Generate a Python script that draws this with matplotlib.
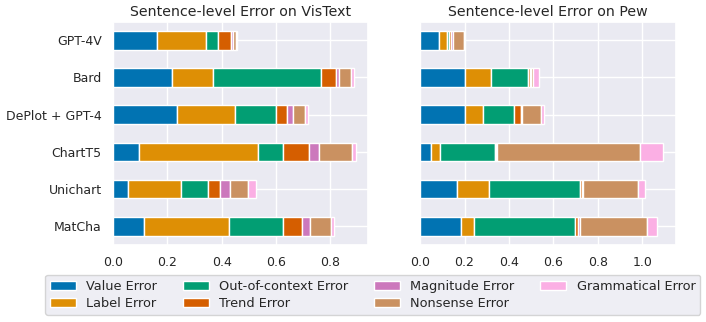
import numpy as np
import matplotlib.pyplot as plt
import seaborn as sns

sns.set_theme(style="darkgrid")
plt.rcParams['font.family'] = ['DejaVu Sans']

models = ["GPT-4V", "Bard", "DePlot + GPT-4", "ChartT5", "Unichart", "MatCha"]
errors = ["Value Error", "Label Error", "Out-of-context Error", "Trend Error",
          "Magnitude Error", "Nonsense Error", "Grammatical Error"]

# rows = models, columns = error types
vistext = [
    [0.161, 0.182, 0.042, 0.051, 0.005, 0.012, 0.002],
    [0.217, 0.152, 0.396, 0.054, 0.011, 0.044, 0.012],
    [0.237, 0.213, 0.148, 0.044, 0.022, 0.042, 0.010],
    [0.095, 0.437, 0.093, 0.095, 0.037, 0.121, 0.015],
    [0.055, 0.196, 0.097, 0.045, 0.039, 0.065, 0.031],
    [0.113, 0.313, 0.201, 0.069, 0.029, 0.077, 0.011],
]
pew = [
    [0.084, 0.039, 0.008, 0.006, 0.012, 0.050, 0.000],
    [0.201, 0.120, 0.166, 0.007, 0.005, 0.010, 0.028],
    [0.202, 0.081, 0.139, 0.033, 0.002, 0.087, 0.012],
    [0.051, 0.039, 0.247, 0.003, 0.006, 0.643, 0.106],
    [0.168, 0.142, 0.411, 0.007, 0.004, 0.250, 0.028],
    [0.183, 0.061, 0.454, 0.013, 0.009, 0.300, 0.045],
]

colors = sns.color_palette("colorblind")[:7]

fig = plt.figure(figsize=(7.06, 3.22), dpi=100)
ax1 = fig.add_axes([0.160, 0.239, 0.361, 0.694])
ax2 = fig.add_axes([0.595, 0.239, 0.362, 0.694])


def stacked(ax, data, title):
    data = np.array(data)[::-1]
    y = np.arange(len(models))
    left = np.zeros(len(models))
    for j, name in enumerate(errors):
        ax.barh(y, data[:, j], left=left, height=0.5, color=colors[j],
                edgecolor="white", linewidth=1, label=name)
        left += data[:, j]
    ax.set_ylim(-0.5, len(models) - 0.5)
    ax.set_xlim(0, left.max() * 1.05)
    ax.set_title(title, fontsize=10.2, pad=4)
    ax.tick_params(axis="both", labelsize=9, pad=2)


stacked(ax1, vistext, "Sentence-level Error on VisText")
stacked(ax2, pew, "Sentence-level Error on Pew")
ax1.set_yticks(np.arange(len(models)))
ax1.set_yticklabels(models[::-1])
ax1.set_xticks([0, 0.2, 0.4, 0.6, 0.8])
ax2.set_yticks(np.arange(len(models)))
ax2.set_yticklabels([])
ax2.set_xticks([0, 0.2, 0.4, 0.6, 0.8, 1.0])

handles, labels = ax1.get_legend_handles_labels()
fig.legend(handles, labels, loc="center", bbox_to_anchor=(0.528, 0.084),
           ncol=4, fontsize=9.3, frameon=True, handlelength=2.0,
           columnspacing=2.0, borderpad=0.4, labelspacing=0.3)

fig.savefig("out.png", dpi=100)
